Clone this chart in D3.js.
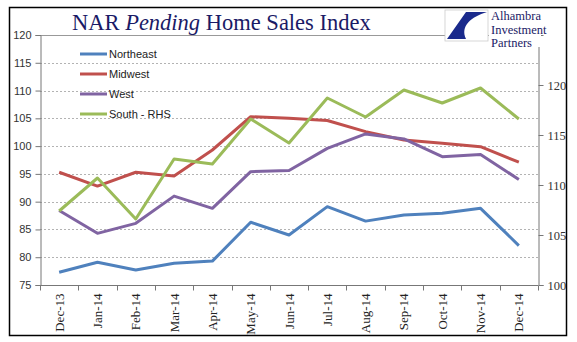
<!DOCTYPE html>
<meta charset="utf-8">
<style>
body{margin:0;background:#fff;}
text{font-family:"Liberation Sans",Arial,sans-serif;}
.serif{font-family:"Liberation Serif","Times New Roman",serif;}
.grid line{stroke:#b3b3b3;stroke-dasharray:2,2;}
.series{fill:none;stroke-width:3px;stroke-linejoin:round;}
</style>
<body>
<script src="https://d3js.org/d3.v7.min.js"></script>
<script>

var months=["Dec-13","Jan-14","Feb-14","Mar-14","Apr-14","May-14","Jun-14","Jul-14","Aug-14","Sep-14","Oct-14","Nov-14","Dec-14"];
var northeast=[77.3,79.1,77.7,78.9,79.3,86.3,84.0,89.1,86.5,87.6,87.9,88.8,82.1];
var midwest=[95.3,92.8,95.3,94.6,99.3,105.3,105.0,104.6,102.6,101.1,100.5,99.9,97.1];
var west=[88.4,84.3,86.1,91.0,88.8,95.4,95.6,99.6,102.2,101.3,98.1,98.5,94.0];
var south=[107.4,110.7,106.6,112.6,112.1,116.6,114.2,118.7,116.8,119.5,118.2,119.7,116.6];
var leftTicks=[75,80,85,90,95,100,105,110,115,120];
var rightTicks=[100,105,110,115,120];

var W=577,H=342;
var m={l:40,r:39,t:35,b:57};

var svg=d3.select("body").append("svg").attr("width",W).attr("height",H);

// outer frame
svg.append("rect").attr("x",9.5).attr("y",7.5).attr("width",557).attr("height",328)
  .attr("fill","#fff").attr("stroke","#000").attr("stroke-width",1.5);

var x=d3.scaleBand().domain(months).range([m.l,W-m.r]);
var yL=d3.scaleLinear().domain([75,120]).range([H-m.b,m.t]);
var yR=d3.scaleLinear().domain([100,125]).range([H-m.b,m.t]);

// grid
svg.append("g").attr("class","grid").selectAll("line")
  .data(leftTicks.filter(d=>d>75&&d<120)).join("line")
  .attr("x1",m.l).attr("x2",W-m.r)
  .attr("y1",d=>Math.round(yL(d))+0.5).attr("y2",d=>Math.round(yL(d))+0.5);
svg.append("line").attr("x1",m.l).attr("x2",W-m.r)
  .attr("y1",m.t+0.5).attr("y2",m.t+0.5).attr("stroke","#999");

// axes
var gl=svg.append("g").attr("transform","translate("+(m.l+0.5)+",0)")
  .call(d3.axisLeft(yL).tickValues(leftTicks).tickSize(5).tickPadding(4));
gl.selectAll("text").attr("font-size",11).attr("fill","#333");

var gr=svg.append("g").attr("transform","translate("+(W-m.r+0.5)+",0)")
  .call(d3.axisRight(yR).tickValues(rightTicks).tickSize(5).tickPadding(4));
gr.selectAll("text").attr("class","serif").attr("font-size",12.5).attr("fill","#333");

var xTicks=d3.range(months.length+1).map(i=>m.l+i*x.step());
var gx=svg.append("g").attr("transform","translate(0,"+(H-m.b+0.5)+")");
gx.append("line").attr("x1",m.l).attr("x2",W-m.r).attr("stroke","#777");
gx.selectAll("line.t").data(xTicks).join("line").attr("class","t")
  .attr("x1",d=>Math.round(d)+0.5).attr("x2",d=>Math.round(d)+0.5)
  .attr("y1",0).attr("y2",5).attr("stroke","#777");
gx.selectAll("text").data(months).join("text").attr("class","serif")
  .attr("transform",d=>"translate("+(x(d)+x.bandwidth()/2+4.5)+",8) rotate(-90)")
  .attr("text-anchor","end").attr("font-size",13).attr("fill","#222").text(d=>d);

[gl,gr].forEach(g=>{
  g.selectAll(".domain").attr("stroke","#777");
  g.selectAll(".tick line").attr("stroke","#777");
});

var series=[
  {name:"Northeast",vals:northeast,color:"#4F81BD",y:yL},
  {name:"Midwest",vals:midwest,color:"#C0504D",y:yL},
  {name:"West",vals:west,color:"#8064A2",y:yL},
  {name:"South - RHS",vals:south,color:"#9BBB59",y:yR}
];

series.forEach(function(s){
  var line=d3.line().x((d,i)=>x(months[i])+x.bandwidth()/2).y(d=>s.y(d));
  svg.append("path").attr("class","series").attr("stroke",s.color).attr("d",line(s.vals));
});

// legend
var lg=svg.append("g").selectAll("g").data(series).join("g")
  .attr("transform",(d,i)=>"translate(80,"+(54+i*20)+")");
lg.append("line").attr("x1",0).attr("x2",27).attr("stroke",d=>d.color).attr("stroke-width",3);
lg.append("text").attr("x",29).attr("y",4).attr("font-size",11).attr("fill","#222").text(d=>d.name);

// title
var t=svg.append("text").attr("class","serif").attr("x",72).attr("y",30)
  .attr("font-size",22.5).attr("fill","#1a1a66");
t.append("tspan").text("NAR ");
t.append("tspan").attr("font-style","italic").text("Pending");
t.append("tspan").text(" Home Sales Index");

// logo
var logo=svg.append("g");
logo.append("rect").attr("x",445).attr("y",10).attr("width",43).attr("height",31)
  .attr("fill","#fff").attr("stroke","#ccc").attr("stroke-width",0.8);
logo.append("path").attr("fill","#1a2a8c")
  .attr("d","M447,39 L466,12 L487,12 C471,17 460,26 466,39 Z");
logo.append("rect").attr("x",489).attr("y",9).attr("width",52).attr("height",38).attr("fill","#fff");
["Alhambra","Investment","Partners"].forEach(function(s,i){
  logo.append("text").attr("class","serif").attr("x",491).attr("y",20+i*13.5)
    .attr("font-size",12.5).attr("fill","#1a1a66").text(s);
});
</script>
</body>
</html>
